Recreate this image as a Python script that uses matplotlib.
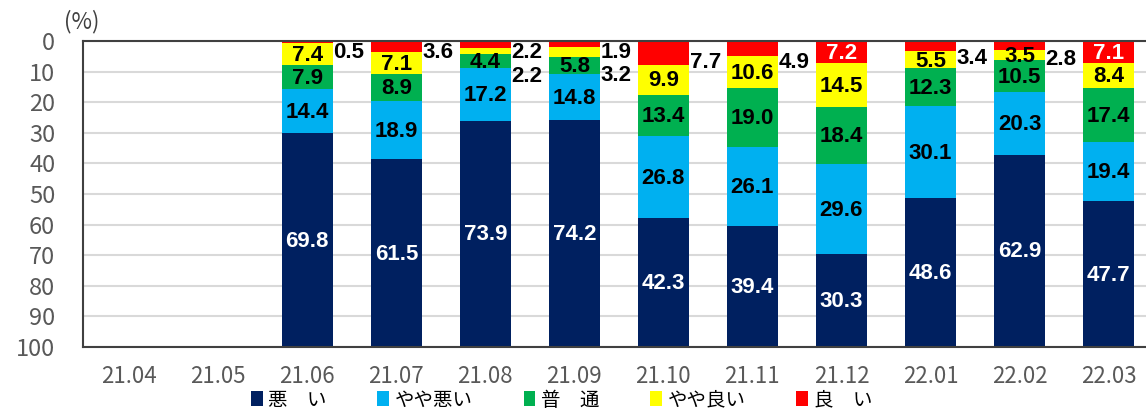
import matplotlib.pyplot as plt
import numpy as np

plt.rcParams['font.family'] = ['Noto Sans CJK JP', 'DejaVu Sans']

# data (%), months 21.04 and 21.05 have no survey
months = ['21.04', '21.05', '21.06', '21.07', '21.08', '21.09',
          '21.10', '21.11', '21.12', '22.01', '22.02', '22.03']
good      = [None, None, 0.5, 3.6, 2.2, 1.9, 7.7, 4.9, 7.2, 3.4, 2.8, 7.1]     # 良い
fair_good = [None, None, 7.4, 7.1, 2.2, 3.2, 9.9, 10.6, 14.5, 5.5, 3.5, 8.4]  # やや良い
normal    = [None, None, 7.9, 8.9, 4.4, 5.8, 13.4, 19.0, 18.4, 12.3, 10.5, 17.4]  # 普通
fair_bad  = [None, None, 14.4, 18.9, 17.2, 14.8, 26.8, 26.1, 29.6, 30.1, 20.3, 19.4]  # やや悪い
bad       = [None, None, 69.8, 61.5, 73.9, 74.2, 42.3, 39.4, 30.3, 48.6, 62.9, 47.7]  # 悪い

# stacked from 0 (top) downwards
series = [good, fair_good, normal, fair_bad, bad]
names = ['良　い', 'やや良い', '普　通', 'やや悪い', '悪　い']
colors = ['#FF0000', '#FFFF00', '#00B050', '#00B0F0', '#002060']
txt_colors = ['white', 'black', 'black', 'black', 'white']

# labels written beside the bar instead of inside: (month index, series index) -> y
outside = {(2, 0): 3.9, (3, 0): 3.9, (4, 0): 3.9, (5, 0): 3.9,
           (6, 0): 6.9, (7, 0): 6.9, (9, 0): 5.6, (10, 0): 6.2,
           (4, 1): 11.7, (5, 1): 11.2}

lab_font = dict(fontsize=16, fontweight='bold', family=['Liberation Sans', 'DejaVu Sans'], zorder=3)

idx = [i for i in range(len(months)) if bad[i] is not None]
x = np.array(idx)
w = 0.57

fig = plt.figure(figsize=(11.46, 4.09), dpi=100)
ax = fig.add_axes([0.0724, 0.1516, 0.9337, 0.7482])

cum = np.zeros(len(idx))
handles = []
for s, vals in enumerate(series):
    v = np.array([vals[i] for i in idx])
    b = ax.bar(x, v, w, bottom=cum, color=colors[s], zorder=2, label=names[s])
    handles.append(b)
    for k, i in enumerate(idx):
        if (i, s) in outside:
            ax.text(i + w / 2 + 0.01, outside[(i, s)], f'{v[k]:.1f}', ha='left', va='center',
                    color='black', **lab_font)
        else:
            ax.text(i, cum[k] + v[k] / 2 + 0.4, f'{v[k]:.1f}', ha='center', va='center',
                    color=txt_colors[s], **lab_font)
    cum = cum + v

ax.set_ylim(100, 0)
ax.set_xlim(-0.52, 11.5)
ax.set_yticks(range(0, 101, 10))
ax.set_xticks(range(len(months)))
ax.set_xticklabels(months)
ax.tick_params(axis='y', length=0, pad=20, labelsize=17, labelcolor='#595959')
ax.tick_params(axis='x', length=0, pad=13, labelsize=16, labelcolor='#595959')
ax.yaxis.grid(True, color='#d9d9d9', linewidth=1.5, zorder=0)
ax.set_axisbelow(True)
for sp in ax.spines.values():
    sp.set_color('#404040')
    sp.set_linewidth(1.5)

fig.text(0.056, 0.948, '(%)', fontsize=16, color='#404040', ha='left', va='center')

# legend: 悪い first
order = [4, 3, 2, 1, 0]
fig.legend([handles[i] for i in order], [names[i] for i in order], loc='center',
           bbox_to_anchor=(0.49, 0.022), ncol=5, frameon=False, fontsize=14,
           handlelength=0.6, handleheight=0.8, handletextpad=0.3, columnspacing=2.6)

plt.savefig('out.png', dpi=100)
